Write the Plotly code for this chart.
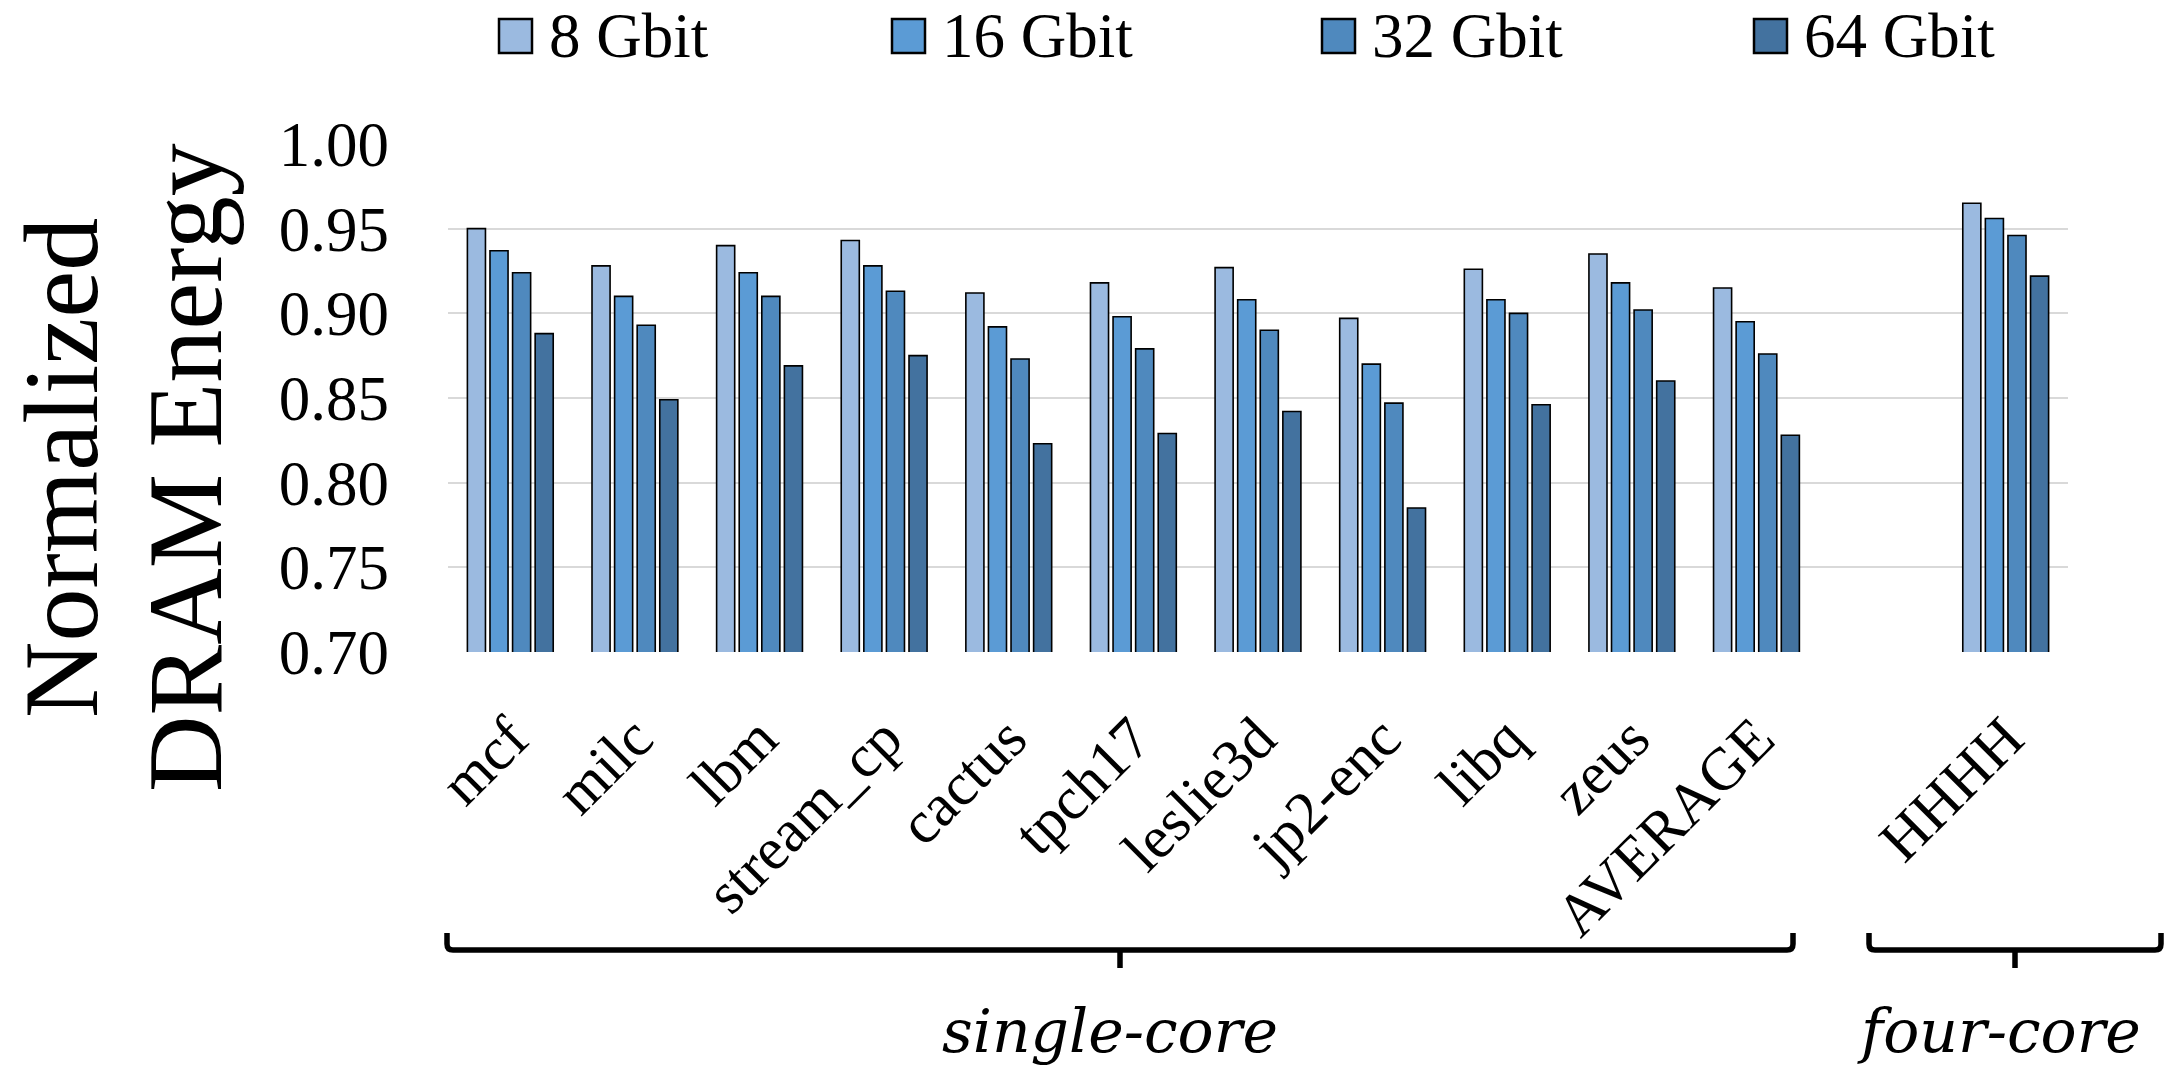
import plotly.graph_objects as go

# ---------------- data ----------------
single_core = ["mcf", "milc", "lbm", "stream_cp", "cactus", "tpch17",
               "leslie3d", "jp2-enc", "libq", "zeus", "AVERAGE"]
four_core = ["HHHH"]
series_names = ["8 Gbit", "16 Gbit", "32 Gbit", "64 Gbit"]

gbit8 = [0.950, 0.928, 0.940, 0.943, 0.912, 0.918, 0.927, 0.897, 0.926, 0.935, 0.915, 0.965]
gbit16 = [0.937, 0.910, 0.924, 0.928, 0.892, 0.898, 0.908, 0.870, 0.908, 0.918, 0.895, 0.956]
gbit32 = [0.924, 0.893, 0.910, 0.913, 0.873, 0.879, 0.890, 0.847, 0.900, 0.902, 0.876, 0.946]
gbit64 = [0.888, 0.849, 0.869, 0.875, 0.823, 0.829, 0.842, 0.785, 0.846, 0.860, 0.828, 0.922]

y_ticks = [0.70, 0.75, 0.80, 0.85, 0.90, 0.95, 1.00]
group_names = ["single-core", "four-core"]

# ---------------- style ----------------
colors = ["#9BBAE0", "#5B9BD5", "#4F89BE", "#43729F"]
SERIF = "Liberation Serif"
ITALIC = "DejaVu Serif"

W, H = 2174, 1068
L, R, T, B = 448, 106, 144, 416
PW, PH = W - L - R, H - T - B


def px(x):
    """pixel column -> paper x"""
    return (x - L) / PW


def py(y):
    """pixel row -> paper y"""
    return (H - B - y) / PH


# category positions: one empty slot between the two groups
labels = single_core + four_core
xpos = list(range(len(single_core))) + [len(single_core) + 1 + i for i in range(len(four_core))]

fig = go.Figure()
for name, vals, col in zip(series_names, [gbit8, gbit16, gbit32, gbit64], colors):
    fig.add_trace(go.Bar(
        x=xpos, y=vals, name=name,
        marker=dict(color=col, line=dict(color="black", width=1.6)),
        showlegend=False,
    ))

shapes = []
annotations = []

# legend row across the top
legend_x = [499, 892, 1322, 1754]
for name, col, lx in zip(series_names, colors, legend_x):
    shapes.append(dict(type="rect", xref="paper", yref="paper",
                       x0=px(lx), x1=px(lx + 33), y0=py(53), y1=py(19),
                       fillcolor=col, line=dict(color="black", width=2.5)))
    annotations.append(dict(xref="paper", yref="paper", x=px(lx + 48), y=py(36),
                            xanchor="left", yanchor="middle", showarrow=False,
                            text=name, font=dict(family=SERIF, size=63, color="black")))

# two-line y-axis title
for txt, cx in [("Normalized", 61), ("DRAM Energy", 185)]:
    annotations.append(dict(xref="paper", yref="paper", x=px(cx), y=py(468),
                            xanchor="center", yanchor="middle", showarrow=False,
                            textangle=-90, text=txt,
                            font=dict(family=SERIF, size=106, color="black")))

# group braces under the category labels
def brace(x0, x1, xm, ytop=933, ybar=950, ytip=968, r=6):
    return (f"M {px(x0)},{py(ytop)} L {px(x0)},{py(ybar - r)} "
            f"Q {px(x0)},{py(ybar)} {px(x0 + r)},{py(ybar)} "
            f"L {px(x1 - r)},{py(ybar)} "
            f"Q {px(x1)},{py(ybar)} {px(x1)},{py(ybar - r)} "
            f"L {px(x1)},{py(ytop)} "
            f"M {px(xm)},{py(ybar)} L {px(xm)},{py(ytip)}")


for (x0, x1, xm), gname, tx, ty in [((447, 1793, 1120), group_names[0], 1110, 1050),
                                     ((1869, 2161, 2015), group_names[1], 1999, 1050)]:
    shapes.append(dict(type="path", xref="paper", yref="paper", path=brace(x0, x1, xm),
                       line=dict(color="black", width=5.5)))
    annotations.append(dict(xref="paper", yref="paper", x=px(tx), y=py(ty - 56),
                            xanchor="center", yanchor="top", showarrow=False,
                            text=f"<i>{gname}</i>",
                            font=dict(family=ITALIC, size=60, color="black")))

fig.update_layout(
    width=W, height=H,
    margin=dict(l=L, r=R, t=T, b=B, autoexpand=False),
    paper_bgcolor="white", plot_bgcolor="white",
    barmode="group", bargap=0.275, bargroupgap=0.2,
    shapes=shapes, annotations=annotations,
    font=dict(family=SERIF, color="black"),
    xaxis=dict(
        range=[-0.5, max(xpos) + 0.5],
        tickmode="array", tickvals=xpos, ticktext=labels,
        tickangle=-45, tickfont=dict(family=SERIF, size=60, color="black"),
        showgrid=False, zeroline=False, showline=False, ticks="",
        ticklabelstandoff=38,
    ),
    yaxis=dict(
        range=[0.70, 1.00], tickmode="array", tickvals=y_ticks,
        tickformat=".2f", tickfont=dict(family=SERIF, size=63, color="black"),
        showgrid=True, gridcolor="#D9D9D9", gridwidth=1.5,
        zeroline=False, showline=False, ticks="",
        ticklabelstandoff=58,
    ),
)

fig.write_html("out.html")
